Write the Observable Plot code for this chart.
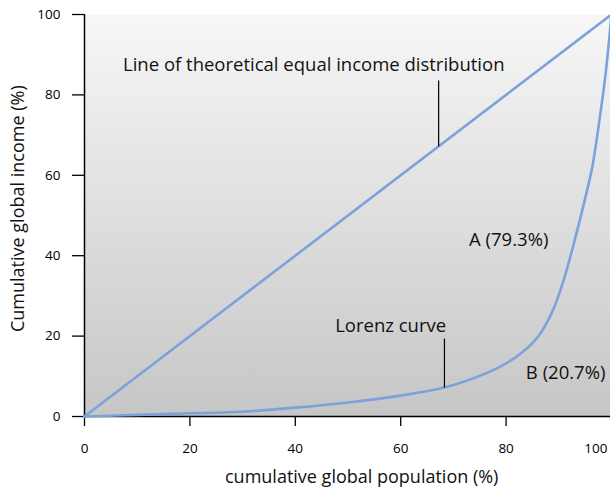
<!DOCTYPE html>
<html>
<head>
<meta charset="utf-8">
<script src="https://cdn.jsdelivr.net/npm/d3@7"></script>
<script src="https://cdn.jsdelivr.net/npm/@observablehq/plot@0.6"></script>
<style>
  html, body { margin: 0; padding: 0; background: #ffffff; }
  #chart { width: 610px; height: 489px; overflow: hidden; }
</style>
</head>
<body>
<div id="chart"></div>
<script>
// Lorenz curve: cumulative population (%) vs cumulative income (%)
const lorenzPop    = [0, 10, 20, 30, 40, 50, 60, 68.3, 74, 78.9, 83.0, 86.2, 88.7, 90.6, 92.1, 93.5, 94.9, 96.4, 97.7, 98.9, 100];
const lorenzIncome = [0, 0.4, 0.8, 1.2, 2.2, 3.5, 5.2, 7.2, 9.6, 12.4, 15.9, 20.1, 25.9, 32.6, 39.3, 46.3, 53.7, 62.4, 73.6, 85.5, 100];

// Line of equality
const equalPop    = [0, 100];
const equalIncome = [0, 100];

// Tick labels
const xTicks = [0, 20, 40, 60, 80, 100];
const yTicks = [0, 20, 40, 60, 80, 100];

// Annotations
const noteLabels = ["Line of theoretical equal income distribution", "Lorenz curve", "A (79.3%)", "B (20.7%)"];
const noteX      = [43.5, 58.1, 80.5, 91.3];
const noteY      = [87.3, 22.6, 43.8, 10.7];

// Leader lines
const leaderX  = [67.2, 68.3];
const leaderY1 = [67.2, 7.2];
const leaderY2 = [83.6, 19.4];

const xTitle = "cumulative global population (%)";
const yTitle = "Cumulative global income (%)";

const lorenz = lorenzPop.map((p, i) => ({pop: p, income: lorenzIncome[i]}));
const equal = equalPop.map((p, i) => ({pop: p, income: equalIncome[i]}));
const notes = noteLabels.map((t, i) => ({text: t, x: noteX[i], y: noteY[i]}));
const leaders = leaderX.map((x, i) => ({x, y1: leaderY1[i], y2: leaderY2[i]}));

const FONT = "'Open Sans', Lato, sans-serif";
const LINE = "#7da1da";

const chart = Plot.plot({
  width: 610,
  height: 489,
  marginLeft: 84,
  marginRight: -1,
  marginTop: 14,
  marginBottom: 73,
  style: {fontFamily: FONT, background: "transparent", overflow: "visible"},
  x: {domain: [0, 100]},
  y: {domain: [0, 100]},
  marks: [
    Plot.frame({fill: "url(#bgGrad)", stroke: null}),
    Plot.axisY({ticks: yTicks, tickSize: 12, tickPadding: 12, fontSize: 13.5, label: null, stroke: "#000", strokeWidth: 1.3, fill: "#000"}),
    Plot.axisX({ticks: xTicks, tickSize: 10, tickPadding: 17, fontSize: 13.5, label: null, stroke: "#000", strokeWidth: 1.3, fill: "#000",
      tickFormat: d => d === 100 ? "" : d}),
    Plot.text([xTicks[xTicks.length - 1]], {x: d => d, text: d => String(d), frameAnchor: "bottom", dy: 32, dx: -4, textAnchor: "end", lineAnchor: "middle", fontSize: 13.5, fill: "#000"}),
    Plot.ruleX([0], {stroke: "#000", strokeWidth: 1.5}),
    Plot.ruleY([0], {stroke: "#000", strokeWidth: 1.5}),
    Plot.line(equal, {x: "pop", y: "income", stroke: LINE, strokeWidth: 2.6}),
    Plot.line(lorenz, {x: "pop", y: "income", stroke: LINE, strokeWidth: 2.6, curve: "catmull-rom"}),
    Plot.link(leaders, {x1: "x", x2: "x", y1: "y1", y2: "y2", stroke: "#000", strokeWidth: 1.2}),
    Plot.text(notes, {x: "x", y: "y", text: "text", fontSize: 18.5, fill: "#111", lineAnchor: "middle"}),
    Plot.text([xTitle], {x: 52.6, text: d => d, frameAnchor: "bottom", dy: 61, fontSize: 18, fill: "#111", lineAnchor: "middle", textAnchor: "middle"}),
    Plot.text([yTitle], {y: 51.7, text: d => d, frameAnchor: "left", dx: -66, rotate: -90, fontSize: 18, fill: "#111", lineAnchor: "middle", textAnchor: "middle"})
  ]
});

const svg = d3.select(chart);
const defs = svg.insert("defs", ":first-child");
const grad = defs.append("linearGradient").attr("id", "bgGrad").attr("x1", 0).attr("y1", 0).attr("x2", 0).attr("y2", 1);
grad.append("stop").attr("offset", "0%").attr("stop-color", "#f7f7f7");
grad.append("stop").attr("offset", "100%").attr("stop-color", "#c6c6c6");

document.getElementById("chart").appendChild(chart);
</script>
</body>
</html>
